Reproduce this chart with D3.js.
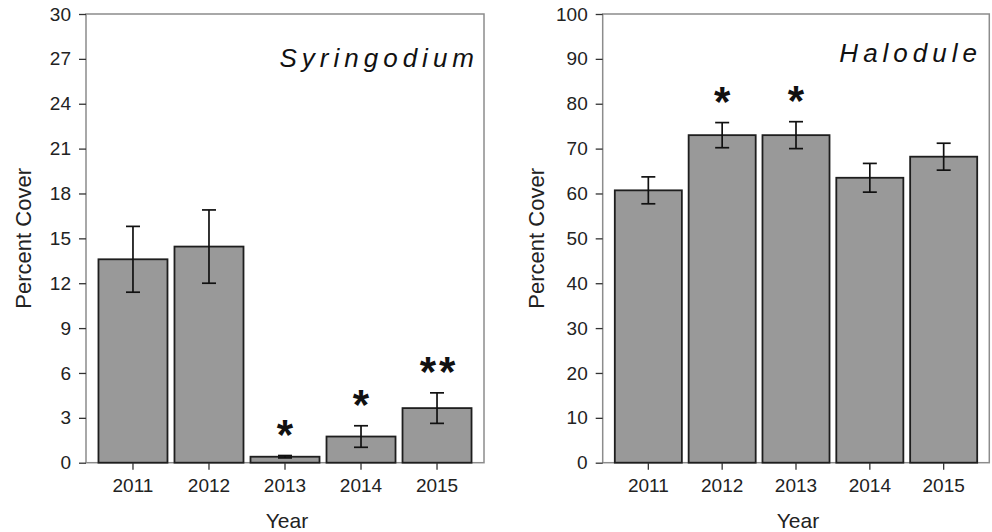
<!DOCTYPE html>
<html>
<head>
<meta charset="utf-8">
<script src="https://cdn.jsdelivr.net/npm/d3@7"></script>
<style>
  body { margin: 0; background: #fff; }
  svg { display: block; font-family: "Liberation Sans", Arial, sans-serif; }
</style>
</head>
<body>
<div id="chart"></div>
<script>
// data
var years = ["2011", "2012", "2013", "2014", "2015"];

var syrMean = [13.6, 14.45, 0.4, 1.75, 3.65];
var syrSE = [2.2, 2.45, 0.08, 0.72, 1.02];
var syrSig = ["", "", "*", "*", "**"];
var syrTicks = [0, 3, 6, 9, 12, 15, 18, 21, 24, 27, 30];

var halMean = [60.7, 73.0, 73.0, 63.5, 68.2];
var halSE = [3.0, 2.8, 3.0, 3.2, 3.0];
var halSig = ["", "*", "*", "", ""];
var halTicks = [0, 10, 20, 30, 40, 50, 60, 70, 80, 90, 100];

var width = 992, height = 532;
var top_y = 14, bottom_y = 462.7;

var svg = d3.select("#chart").append("svg").attr("width", width).attr("height", height);

draw_panel({
  x0: 86, x1: 484, ymax: 30, ticks: syrTicks,
  mean: syrMean, se: syrSE, sig: syrSig,
  name: "Syringodium", nameX: 479, nameY: 67, ylabX: 31
});
draw_panel({
  x0: 602.7, x1: 989.3, ymax: 100, ticks: halTicks,
  mean: halMean, se: halSE, sig: halSig,
  name: "Halodule", nameX: 982, nameY: 62, ylabX: 544
});

function draw_panel(p) {
  var g = svg.append("g");
  var xscale = d3.scaleBand().domain(years).range([p.x0, p.x1]).paddingInner(0.092).paddingOuter(0.164);
  var yscale = d3.scaleLinear().domain([0, p.ymax]).range([bottom_y, top_y]);
  var data = years.map(function(y, i) {
    return {year: y, mean: p.mean[i], se: p.se[i], sig: p.sig[i]};
  });

  // frame
  g.append("rect").attr("x", p.x0).attr("y", top_y)
    .attr("width", p.x1 - p.x0).attr("height", bottom_y - top_y)
    .attr("fill", "none").attr("stroke", "#8c8c8c").attr("stroke-width", 1.5);

  // bars
  g.selectAll(".bar").data(data).enter().append("rect")
    .attr("x", function(d) { return xscale(d.year); })
    .attr("y", function(d) { return yscale(d.mean); })
    .attr("width", xscale.bandwidth())
    .attr("height", function(d) { return bottom_y - yscale(d.mean); })
    .attr("fill", "#999999").attr("stroke", "#1e1e1e").attr("stroke-width", 1.8);

  // error bars
  var cap = 7;
  var eb = g.selectAll(".err").data(data).enter().append("g")
    .attr("stroke", "#111").attr("stroke-width", 1.7);
  eb.append("line")
    .attr("x1", function(d) { return xscale(d.year) + xscale.bandwidth() / 2; })
    .attr("x2", function(d) { return xscale(d.year) + xscale.bandwidth() / 2; })
    .attr("y1", function(d) { return yscale(d.mean + d.se); })
    .attr("y2", function(d) { return yscale(d.mean - d.se); });
  [1, -1].forEach(function(s) {
    eb.append("line")
      .attr("x1", function(d) { return xscale(d.year) + xscale.bandwidth() / 2 - cap; })
      .attr("x2", function(d) { return xscale(d.year) + xscale.bandwidth() / 2 + cap; })
      .attr("y1", function(d) { return yscale(d.mean + s * d.se); })
      .attr("y2", function(d) { return yscale(d.mean + s * d.se); });
  });

  // significance stars
  g.selectAll(".sig").data(data.filter(function(d) { return d.sig; })).enter().append("text")
    .attr("x", function(d) { return xscale(d.year) + xscale.bandwidth() / 2 + (d.sig.length > 1 ? 2 : 0); })
    .attr("y", function(d) { return yscale(d.mean + d.se) - 30 + 23; })
    .attr("text-anchor", "middle")
    .attr("font-size", 42).attr("font-weight", "bold")
    .attr("letter-spacing", function(d) { return d.sig.length > 1 ? 3 : 0; })
    .attr("fill", "#111")
    .text(function(d) { return d.sig; });

  // axes
  var yaxis = d3.axisLeft(yscale).tickValues(p.ticks).tickSize(7).tickPadding(8).tickSizeOuter(0);
  var ya = g.append("g").attr("transform", "translate(" + p.x0 + ",0)").call(yaxis);
  ya.select(".domain").remove();
  ya.selectAll("line").attr("stroke", "#333").attr("stroke-width", 1.3);
  ya.selectAll("text").attr("font-size", 19).attr("fill", "#222").attr("font-family", "Liberation Sans, Arial, sans-serif");

  var xaxis = d3.axisBottom(xscale).tickSize(7).tickPadding(9).tickSizeOuter(0);
  var xa = g.append("g").attr("transform", "translate(0," + bottom_y + ")").call(xaxis);
  xa.select(".domain").remove();
  xa.selectAll("line").attr("stroke", "#333").attr("stroke-width", 1.3);
  xa.selectAll("text").attr("font-size", 19).attr("fill", "#222").attr("font-family", "Liberation Sans, Arial, sans-serif");

  // axis titles
  g.append("text").attr("x", (p.x0 + p.x1) / 2 + 2).attr("y", 528)
    .attr("text-anchor", "middle").attr("font-size", 21).attr("fill", "#222").text("Year");
  g.append("text").attr("transform", "translate(" + p.ylabX + "," + ((top_y + bottom_y) / 2) + ") rotate(-90)")
    .attr("text-anchor", "middle").attr("font-size", 22).attr("fill", "#222").text("Percent Cover");

  // species name
  g.append("text").attr("x", p.nameX).attr("y", p.nameY)
    .attr("text-anchor", "end").attr("font-size", 26).attr("font-style", "italic")
    .attr("letter-spacing", 5).attr("fill", "#111").text(p.name);
}
</script>
</body>
</html>
